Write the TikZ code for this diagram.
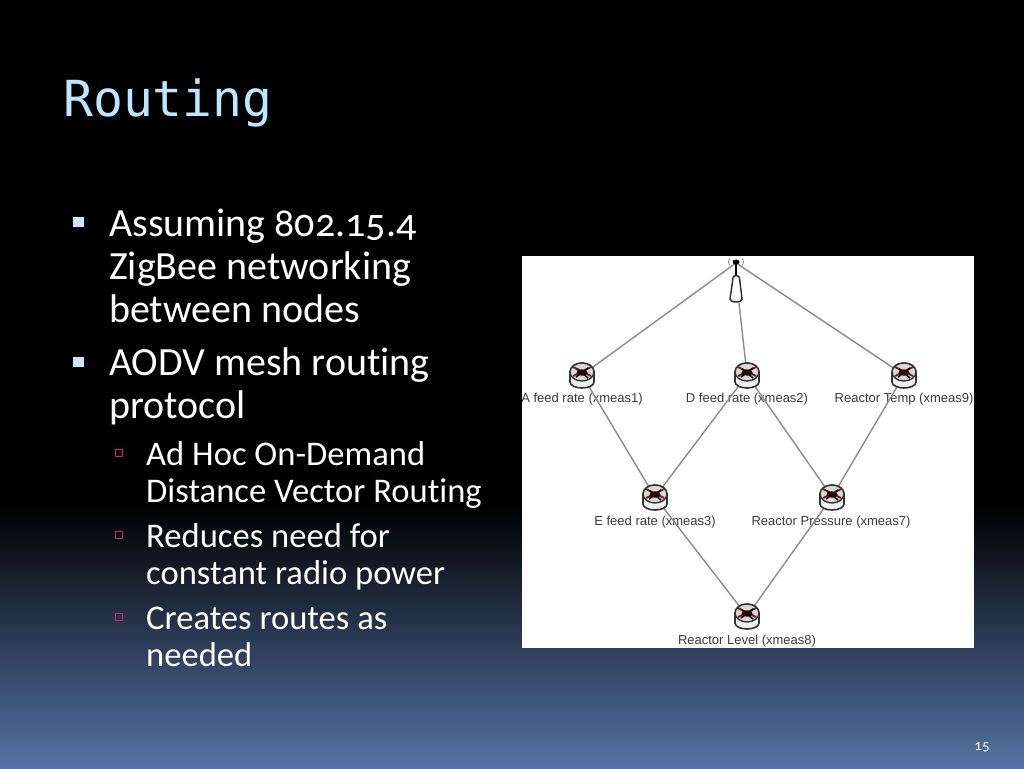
\documentclass[tikz,border=0pt]{standalone}
\usepackage{fontspec}
\setmainfont{Carlito}[Numbers=OldStyle,Ligatures=NoCommon]
\newfontfamily\labelfont{Liberation Sans}
\newfontfamily\titlefont{DejaVu Sans Mono}
\usetikzlibrary{calc}
\definecolor{titleblue}{RGB}{190,230,255}
\definecolor{bulletblue}{RGB}{205,228,250}
\definecolor{subpink}{RGB}{205,40,110}
\definecolor{bottomblue}{RGB}{85,115,165}
\definecolor{linkgray}{RGB}{140,140,140}
\definecolor{labelgray}{RGB}{60,60,60}
\definecolor{routerred}{RGB}{120,25,40}
\tikzset{
  x=1pt,y=-1pt,
  titletext/.style={anchor=base west,inner sep=0pt,text=titleblue,font=\titlefont\fontsize{49.7}{50}\selectfont},
  mainitem/.style={anchor=base west,inner sep=0pt,text=white,align=left,font=\fontsize{40}{43}\selectfont},
  subitem/.style={anchor=base west,inner sep=0pt,text=white,align=left,font=\fontsize{34.6}{37}\selectfont},
  mainbullet/.style={fill=bulletblue,minimum size=10.5pt,inner sep=0pt,draw=none},
  subbullet/.style={draw=subpink,line width=1.3pt,minimum size=7.5pt,inner sep=0pt},
  netlabel/.style={inner sep=0pt,text=labelgray,font=\labelfont\fontsize{13}{14}\selectfont},
  routernode/.style={minimum width=26pt,minimum height=26pt,inner sep=0pt},
  link/.style={draw=linkgray,line width=1.4pt},
  pagenum/.style={inner sep=0pt,text=white!90!bulletblue,font=\fontsize{15}{15}\selectfont},
}
\newcommand{\routericon}[1]{%
  \begin{scope}[shift={(#1)}]
    \draw[black!80,line width=1.6pt,fill=white!94!black]
      (-12,-3) -- (-12,7) arc[start angle=180,end angle=0,x radius=12,y radius=6]
      -- (12,-3) arc[start angle=0,end angle=-180,x radius=12,y radius=9];
    \draw[black!80,line width=1.4pt,fill=white!85!black] (0,-3) ellipse[x radius=12,y radius=9];
    \draw[routerred,line width=1.8pt] (-9,-8) -- (9,1) (-9,1) -- (9,-8);
    \draw[black,line width=1.6pt] (-5,-6) -- (6,3) (-6,2) -- (6,-7);
    \fill[black!70!routerred] (0,-2.5) ellipse[x radius=5.5,y radius=3.2];
  \end{scope}}
\begin{document}
\begin{tikzpicture}
\useasboundingbox (0,0) rectangle (1024,768);
\fill[black] (0,0) rectangle (1024,505);
\shade[top color=black,bottom color=bottomblue,shading angle=0] (0,505) rectangle (1024,768);

\node[titletext] (title) at (63,116) {Routing};

\node[mainbullet] (b1) at (78.5,222) {};
\node[mainitem] (t1) at (109,322) {Assuming 802.15.4\\ZigBee networking\\between nodes};
\node[mainbullet] (b2) at (78.5,362) {};
\node[mainitem] (t2) at (109,418) {AODV mesh routing\\protocol};
\node[subbullet] (s1) at (119,453) {};
\node[subitem] (u1) at (146,502) {Ad Hoc On-Demand\\Distance Vector Routing};
\node[subbullet] (s2) at (119,535) {};
\node[subitem] (u2) at (146,584) {Reduces need for\\constant radio power};
\node[subbullet] (s3) at (119,617) {};
\node[subitem] (u3) at (146,666) {Creates routes as\\needed};

\node[pagenum] (page) at (982,747) {15};

\fill[white] (522,256) rectangle (974,648);

\begin{scope}
\clip (522,256) rectangle (974,648);
\node[netlabel] (la) at (582,399) {A feed rate (xmeas1)};
\node[netlabel] (ld) at (747,399) {D feed rate (xmeas2)};
\node[netlabel] (lt) at (904,399) {Reactor Temp (xmeas9)};
\node[netlabel] (le) at (655,522) {E feed rate (xmeas3)};
\node[netlabel] (lp) at (831,522) {Reactor Pressure (xmeas7)};
\node[netlabel] (ll) at (747,641) {Reactor Level (xmeas8)};
\end{scope}

\coordinate (ant) at (736,263);
\coordinate (antb) at (739,303);
\node[routernode] (ra) at (582,375) {};
\node[routernode] (rd) at (747,375) {};
\node[routernode] (rt) at (904,375) {};
\node[routernode] (re) at (655,497) {};
\node[routernode] (rp) at (832,497) {};
\node[routernode] (rl) at (747,616) {};

\draw[link] (ant) -- (ra.center);
\draw[link] (ant) -- (rt.center);
\draw[link] (antb) -- (rd.center);
\draw[link] (ra.center) -- (re.center);
\draw[link] (rd.center) -- (re.center);
\draw[link] (rd.center) -- (rp.center);
\draw[link] (rt.center) -- (rp.center);
\draw[link] (re.center) -- (rl.center);
\draw[link] (rp.center) -- (rl.center);

\foreach \r in {ra,rd,rt,re,rp,rl} {\routericon{\r}}

% antenna
\draw[black!80,line width=1.5pt,fill=white] (733,278) -- (730,299) arc[start angle=180,end angle=0,x radius=6,y radius=3] -- (739.5,278) arc[start angle=0,end angle=-180,x radius=3.25,y radius=2.5] -- cycle;
\draw[black,line width=1.8pt] (736,263) -- (736,275);
\fill[black] (736,262) ellipse[x radius=3.5,y radius=2.5];
\draw[gray,line width=.8pt] (729.5,258.5) arc[start angle=210,end angle=150,radius=7];
\draw[gray,line width=.8pt] (742.5,258.5) arc[start angle=-30,end angle=30,radius=7];
\end{tikzpicture}
\end{document}
